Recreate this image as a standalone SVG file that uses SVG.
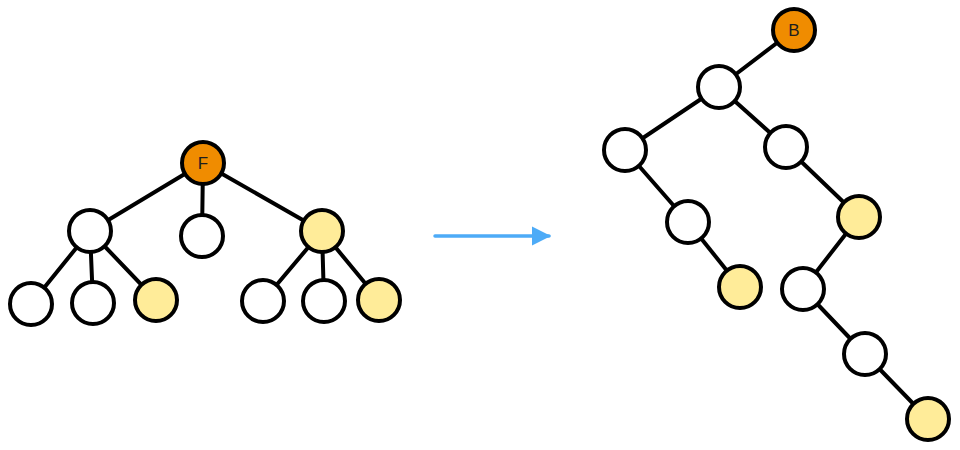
<svg xmlns="http://www.w3.org/2000/svg" width="960" height="450" viewBox="0 0 960 450">
<style>
.n{fill:#fff;stroke:#000;stroke-width:4}
.y{fill:#ffec99}
.o{fill:#f08c00}
.e line{stroke:#000;stroke-width:4;stroke-linecap:round}
.t{font-family:"Liberation Sans",Arial,sans-serif;font-size:17px;fill:#1e1e1e;text-anchor:middle;dominant-baseline:central}
</style>
<defs>
<marker id="ah" viewBox="0 0 10 10" refX="9" refY="5" markerWidth="5.5" markerHeight="5.5" orient="auto" markerUnits="strokeWidth">
<path d="M0,0 L10,5 L0,10 Z" fill="#4dabf7"/>
</marker>
</defs>
<g id="connectors" class="e">
<line x1="203" y1="163" x2="90" y2="231"/>
<line x1="203" y1="163" x2="202" y2="236"/>
<line x1="203" y1="163" x2="322" y2="231"/>
<line x1="90" y1="231" x2="31" y2="304"/>
<line x1="90" y1="231" x2="93" y2="303"/>
<line x1="90" y1="231" x2="156" y2="300"/>
<line x1="322" y1="231" x2="263" y2="301"/>
<line x1="322" y1="231" x2="324" y2="301"/>
<line x1="322" y1="231" x2="379" y2="300"/>
<line x1="794" y1="30" x2="719" y2="87"/>
<line x1="719" y1="87" x2="625" y2="150"/>
<line x1="719" y1="87" x2="786" y2="147"/>
<line x1="625" y1="150" x2="688" y2="222"/>
<line x1="688" y1="222" x2="740" y2="287"/>
<line x1="786" y1="147" x2="859" y2="217"/>
<line x1="859" y1="217" x2="803" y2="289"/>
<line x1="803" y1="289" x2="865" y2="354"/>
<line x1="865" y1="354" x2="928" y2="419"/>
<line x1="435" y1="236" x2="549" y2="236" style="stroke:#4dabf7;stroke-width:3.5" marker-end="url(#ah)"/>
</g>
<g id="nF"><circle class="n o" cx="203" cy="163" r="21"/><text class="t" x="203" y="163">F</text></g>
<g id="nL1"><circle class="n" cx="90" cy="231" r="21"/></g>
<g id="nM"><circle class="n" cx="202" cy="236" r="21"/></g>
<g id="nR"><circle class="n y" cx="322" cy="231" r="21"/></g>
<g id="nLa"><circle class="n" cx="31" cy="304" r="21"/></g>
<g id="nLb"><circle class="n" cx="93" cy="303" r="21"/></g>
<g id="nLc"><circle class="n y" cx="156" cy="300" r="21"/></g>
<g id="nRa"><circle class="n" cx="263" cy="301" r="21"/></g>
<g id="nRb"><circle class="n" cx="324" cy="301" r="21"/></g>
<g id="nRc"><circle class="n y" cx="379" cy="300" r="21"/></g>
<g id="nB"><circle class="n o" cx="794" cy="30" r="21"/><text class="t" x="794" y="30">B</text></g>
<g id="nA"><circle class="n" cx="719" cy="87" r="21"/></g>
<g id="nB1"><circle class="n" cx="625" cy="150" r="21"/></g>
<g id="nC1"><circle class="n" cx="786" cy="147" r="21"/></g>
<g id="nB2"><circle class="n" cx="688" cy="222" r="21"/></g>
<g id="nB3"><circle class="n y" cx="740" cy="287" r="21"/></g>
<g id="nC2"><circle class="n y" cx="859" cy="217" r="21"/></g>
<g id="nC3"><circle class="n" cx="803" cy="289" r="21"/></g>
<g id="nC4"><circle class="n" cx="865" cy="354" r="21"/></g>
<g id="nC5"><circle class="n y" cx="928" cy="419" r="21"/></g>
</svg>
